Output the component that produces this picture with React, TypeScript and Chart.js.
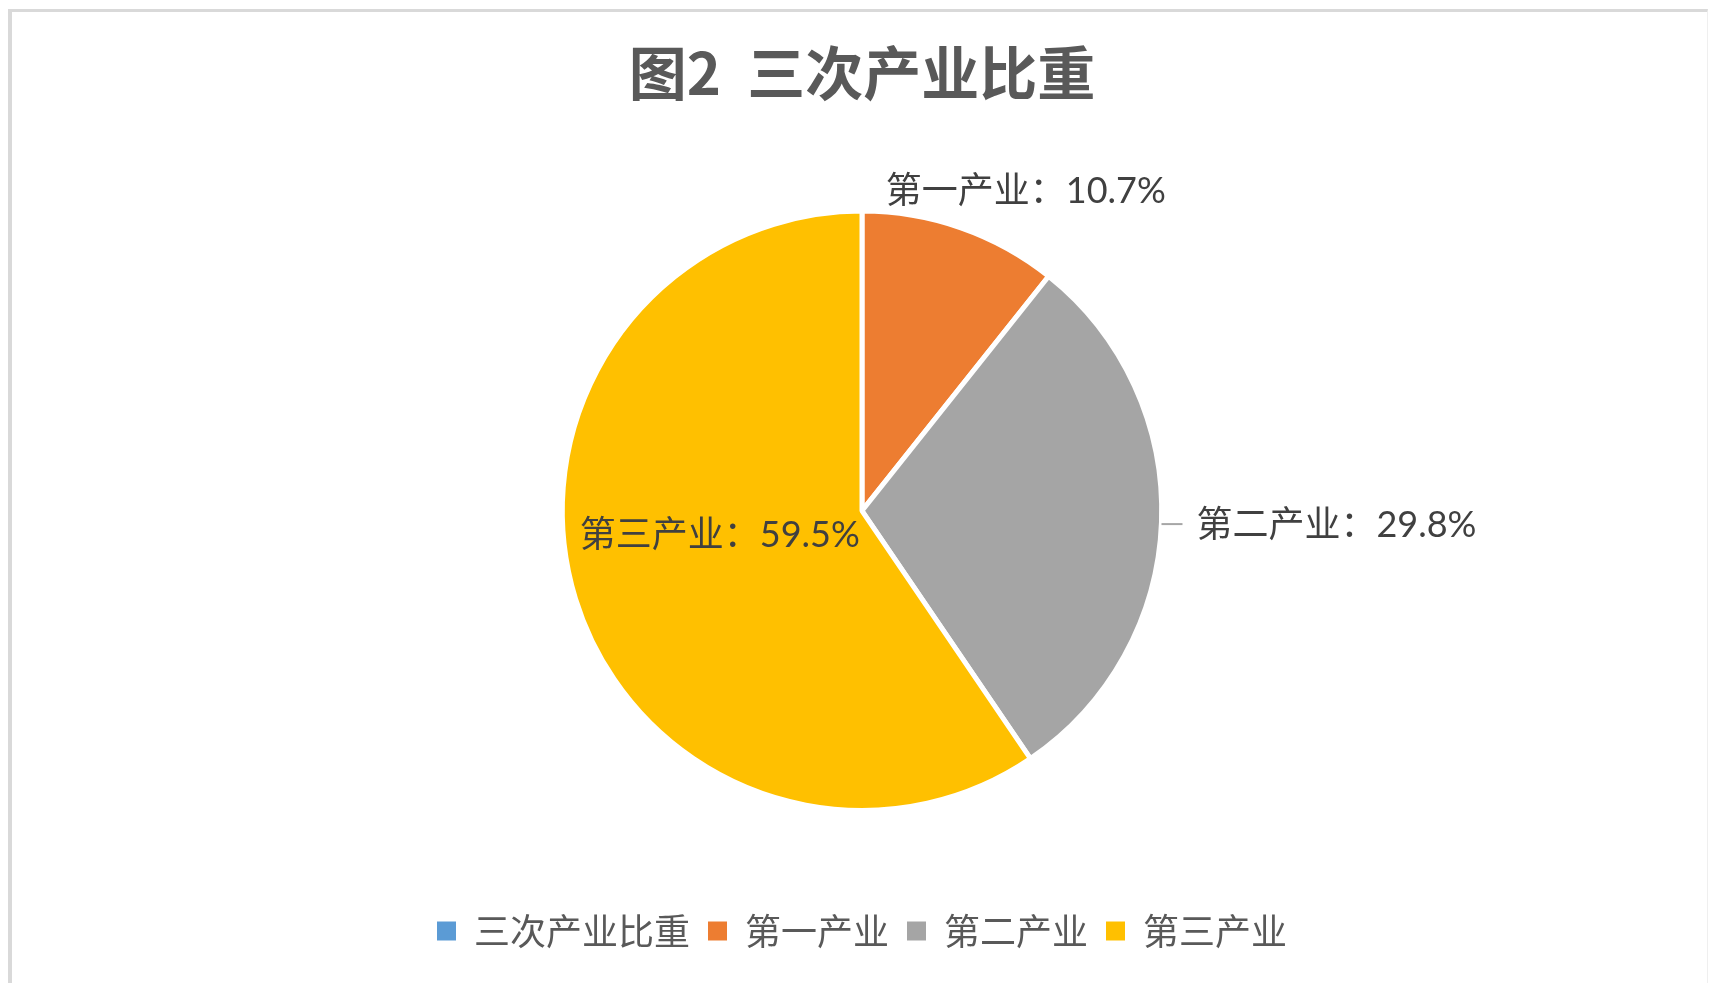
import React, { useEffect, useRef } from 'react';
import { Chart, registerables } from 'chart.js';

Chart.register(...registerables);

const titleText = '图2  三次产业比重';
const seriesName = '三次产业比重';
const categories = ['第一产业', '第二产业', '第三产业'];
const shares = [10.7, 29.8, 59.5];
const sliceColors = ['#ED7D31', '#A5A5A5', '#FFC000'];
const seriesColor = '#5B9BD5';

const FONT = "Lato, 'Noto Sans CJK SC', sans-serif";
const CJK = "'Noto Sans CJK SC', sans-serif";

// label placement relative to each slice's own geometry (style, not data)
const labelPlace = [
  { r: 1.0, dx: 65, dy: -36, align: 'center', leader: null },
  { r: 1.0, dx: 35, dy: 3, align: 'left', leader: [0, 21, 2] },
  { r: 0.5, dx: 1, dy: -19, align: 'center', leader: null },
];

const sliceLabels = {
  id: 'sliceLabels',
  afterDatasetsDraw(chart: any) {
    const ctx = chart.ctx;
    const meta = chart.getDatasetMeta(0);
    meta.data.forEach((arc: any, i: number) => {
      const { x, y, startAngle, endAngle, outerRadius } = arc.getProps(
        ['x', 'y', 'startAngle', 'endAngle', 'outerRadius'],
        true
      );
      const mid = (startAngle + endAngle) / 2;
      const p = labelPlace[i];
      const r = outerRadius * p.r;
      const ax = x + Math.cos(mid) * r;
      const ay = y + Math.sin(mid) * r;
      const text = `${categories[i]}：${shares[i].toFixed(1)}%`;
      ctx.save();
      ctx.font = `36px ${FONT}`;
      ctx.fillStyle = '#404040';
      ctx.textBaseline = 'middle';
      ctx.textAlign = p.align;
      ctx.fillText(text, ax + p.dx, ay + p.dy);
      if (p.leader) {
        ctx.strokeStyle = '#A6A6A6';
        ctx.lineWidth = 2;
        ctx.beginPath();
        ctx.moveTo(ax + p.leader[0], ay + p.leader[2]);
        ctx.lineTo(ax + p.leader[1], ay + p.leader[2]);
        ctx.stroke();
      }
      ctx.restore();
    });
  },
};

export default function App() {
  const canvasRef = useRef<HTMLCanvasElement | null>(null);

  useEffect(() => {
    document.body.style.margin = '0';
    const canvas = canvasRef.current;
    if (!canvas) return;
    const chart = new Chart(canvas, {
      type: 'pie',
      data: {
        labels: categories,
        datasets: [
          {
            label: seriesName,
            data: shares,
            backgroundColor: sliceColors,
            borderColor: '#FFFFFF',
            borderWidth: 5,
          },
        ],
      },
      options: {
        animation: false,
        responsive: false,
        devicePixelRatio: 1,
        layout: { padding: { left: 13, right: 0, top: 0, bottom: 24 } },
        plugins: {
          title: {
            display: true,
            text: titleText,
            color: '#595959',
            font: { family: CJK, size: 58, weight: 'bold', lineHeight: 1.2 },
            padding: { top: 38, bottom: 101 },
          },
          legend: {
            display: true,
            position: 'bottom',
            onClick: () => {},
            title: {
              display: true,
              text: '',
              font: { size: 10, lineHeight: 1 },
              padding: { top: 72, bottom: 0 },
            },
            labels: {
              color: '#595959',
              font: { family: CJK, size: 36 },
              boxWidth: 19,
              boxHeight: 19,
              padding: 18,
              generateLabels: (c: any) => {
                const base = (Chart as any).overrides.pie.plugins.legend.labels.generateLabels(c);
                const items = base.map((it: any) => ({ ...it, lineWidth: 0, strokeStyle: 'rgba(0,0,0,0)' }));
                return [
                  {
                    text: seriesName,
                    fillStyle: seriesColor,
                    strokeStyle: 'rgba(0,0,0,0)',
                    lineWidth: 0,
                    hidden: false,
                    index: -1,
                    fontColor: '#595959',
                  },
                  ...items,
                ];
              },
            },
          },
          tooltip: { enabled: false },
        },
      },
      plugins: [sliceLabels],
    });
    return () => chart.destroy();
  }, []);

  return (
    <div style={{ position: 'relative', width: 1711, height: 983, overflow: 'hidden', background: '#fff' }}>
      <div
        style={{
          position: 'absolute',
          left: 8,
          top: 9,
          width: 1700,
          height: 1000,
          borderLeft: '4px solid #D9D9D9',
          borderTop: '3px solid #D9D9D9',
          borderRight: '1px solid #EFEFEF',
          boxSizing: 'border-box',
        }}
      />
      <canvas
        ref={canvasRef}
        width={1711}
        height={983}
        style={{ position: 'absolute', left: 0, top: 0, width: 1711, height: 983 }}
      />
    </div>
  );
}
